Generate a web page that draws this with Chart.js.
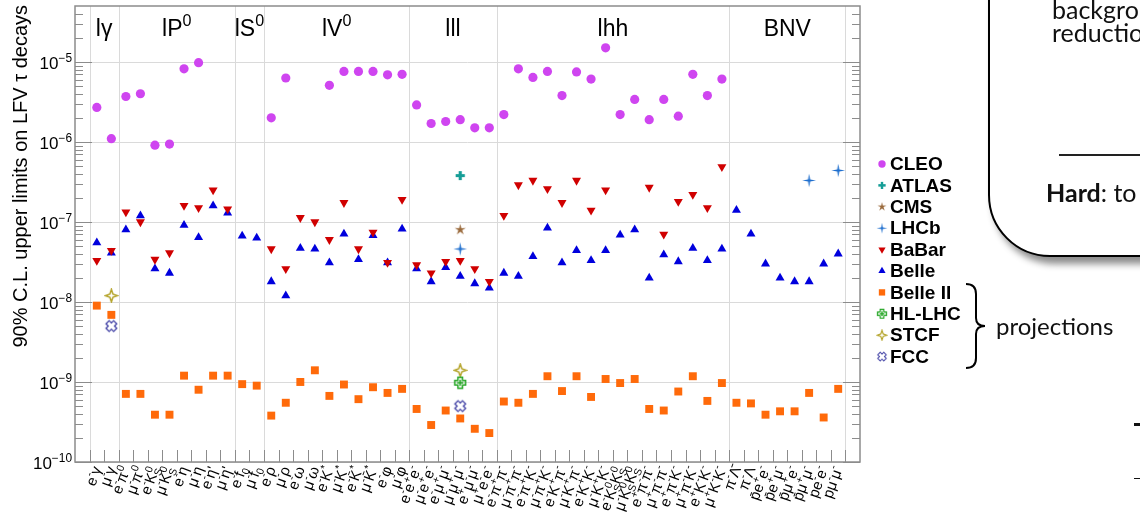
<!DOCTYPE html>
<html>
<head>
<meta charset="utf-8">
<title>Upper limits on LFV tau decays</title>
<script src="https://cdn.jsdelivr.net/npm/chart.js@4/dist/chart.umd.min.js"></script>
<style>
  html, body { margin: 0; padding: 0; width: 1140px; height: 513px; overflow: hidden; background: #fff; }
  #plot { position: absolute; left: 0; top: 0; }
  .slide { position: absolute; font-family: Lato, "Open Sans", sans-serif; color: #111; white-space: nowrap; }
  .box { position: absolute; left: 988px; top: -120px; width: 420px; height: 373px;
         border: 2.5px solid #000; border-radius: 62px; background: #fff;
         box-shadow: 5px 7px 7px rgba(0,0,0,0.45); }
  .dash { position: absolute; background: #111; }
</style>
</head>
<body>
<canvas id="plot" width="1140" height="513"></canvas>

<div class="box"></div>
<div class="slide" style="left:1052px; top:-2px; font-size:25px; line-height:23px;">background<br>reduction</div>
<div class="slide" style="left:1059px; top:154px; width:120px; height:1.5px; background:#222;"></div>
<div class="slide" style="left:1046px; top:181px; font-size:25px; line-height:23px;"><b>Hard</b>: to</div>

<svg class="slide" style="left:0; top:0;" width="1140" height="513">
  <path d="M966,284 C973,284 976,287 976,294 L976,318 C976,323 979,326 985,326 C979,326 976,329 976,334 L976,358 C976,365 973,368 966,368"
        fill="none" stroke="#000" stroke-width="2"/>
</svg>
<div class="slide" style="left:996px; top:313px; font-size:24px; line-height:26px;">projections</div>
<div class="dash" style="left:1134px; top:423px; width:6px; height:2.5px;"></div>
<div class="dash" style="left:1134px; top:478px; width:6px; height:1.2px;"></div>

<script>
// Decay channels, grouped by final-state type ('^' superscript, '_' subscript)
const groupNames = ['lγ', 'lP^0', 'lS^0', 'lV^0', 'lll', 'lhh', 'BNV'];
const groupSizes = [2, 8, 2, 10, 6, 16, 8];
const channels = [
  'e^-γ', 'μ^-γ',
  'e^-π^0', 'μ^-π^0', 'e^-K^0_S', 'μ^-K^0_S', 'e^-η', 'μ^-η', "e^-η'", "μ^-η'",
  'e^-f_0', 'μ^-f_0',
  'e^-ρ', 'μ^-ρ', 'e^-ω', 'μ^-ω', 'e^-K^*', 'μ^-K^*', 'e^-K\u0304^*', 'μ^-K\u0304^*', 'e^-φ', 'μ^-φ',
  'e^-e^+e^-', 'μ^-e^+e^-', 'e^-μ^+μ^-', 'μ^-μ^+μ^-', 'e^+μ^-μ^-', 'μ^+e^-e^-',
  'e^-π^+π^-', 'μ^-π^+π^-', 'e^-π^+K^-', 'μ^-π^+K^-', 'e^-K^+π^-', 'μ^-K^+π^-', 'e^-K^+K^-', 'μ^-K^+K^-',
  'e^-K^0_SK^0_S', 'μ^-K^0_SK^0_S', 'e^+π^-π^-', 'μ^+π^-π^-', 'e^+π^-K^-', 'μ^+π^-K^-', 'e^+K^-K^-', 'μ^+K^-K^-',
  'π^-Λ\u0304', 'π^-Λ', 'p\u0304e^+e^-', 'p\u0304e^+μ^-', 'p\u0304μ^+e^-', 'p\u0304μ^+μ^-', 'pe^-e^-', 'pμ^-μ^-'
];

// Decade labels of the vertical axis
const decadeExponents = [-10, -9, -8, -7, -6, -5];

// 90% C.L. upper limits, one entry per channel (null = no result)
const cleo = [2.7e-6, 1.1e-6,
  3.7e-6, 4.0e-6, 9.1e-7, 9.4e-7, 8.2e-6, 9.8e-6, null, null,
  null, null,
  2.0e-6, 6.3e-6, null, null, 5.1e-6, 7.6e-6, 7.6e-6, 7.6e-6, 6.9e-6, 7.0e-6,
  2.9e-6, 1.7e-6, 1.8e-6, 1.9e-6, 1.5e-6, 1.5e-6,
  2.2e-6, 8.2e-6, 6.4e-6, 7.6e-6, 3.8e-6, 7.5e-6, 6.1e-6, 1.5e-5, 2.2e-6, 3.4e-6, 1.9e-6, 3.4e-6, 2.1e-6, 7.0e-6, 3.8e-6, 6.1e-6,
  null, null, null, null, null, null, null, null];
const babar = [3.3e-8, 4.4e-8,
  1.33e-7, 1.0e-7, 3.4e-8, 4.1e-8, 1.6e-7, 1.5e-7, 2.5e-7, 1.45e-7,
  null, null,
  4.6e-8, 2.6e-8, 1.13e-7, 1.0e-7, 6.0e-8, 1.74e-7, 4.6e-8, 7.4e-8, 3.1e-8, 1.9e-7,
  2.9e-8, 2.3e-8, 3.2e-8, 3.3e-8, 2.6e-8, 1.8e-8,
  1.2e-7, 2.9e-7, 3.3e-7, 2.6e-7, 1.74e-7, 3.3e-7, 1.4e-7, 2.5e-7, null, null, 2.7e-7, 7.0e-8, 1.8e-7, 2.2e-7, 1.5e-7, 4.9e-7,
  null, null, null, null, null, null, null, null];
const belle = [5.5e-8, 4.1e-8,
  8.0e-8, 1.2e-7, 2.6e-8, 2.3e-8, 9.1e-8, 6.4e-8, 1.6e-7, 1.3e-7,
  6.7e-8, 6.3e-8,
  1.8e-8, 1.2e-8, 4.7e-8, 4.6e-8, 3.1e-8, 7.1e-8, 3.4e-8, 6.8e-8, 3.1e-8, 8.2e-8,
  2.6e-8, 1.8e-8, 2.7e-8, 2.1e-8, 1.7e-8, 1.5e-8,
  2.3e-8, 2.1e-8, 3.7e-8, 8.4e-8, 3.1e-8, 4.4e-8, 3.3e-8, 4.4e-8, 6.9e-8, 8.0e-8, 2.0e-8, 3.9e-8, 3.2e-8, 4.7e-8, 3.3e-8, 4.6e-8,
  1.4e-7, 7.1e-8, 3.0e-8, 2.0e-8, 1.8e-8, 1.8e-8, 3.0e-8, 4.0e-8];
const belle2 = [9.0e-9, 6.9e-9,
  7.1e-10, 7.1e-10, 3.9e-10, 3.9e-10, 1.2e-9, 8.0e-10, 1.2e-9, 1.2e-9,
  9.4e-10, 9.0e-10,
  3.8e-10, 5.5e-10, 1.0e-9, 1.4e-9, 6.7e-10, 9.3e-10, 6.1e-10, 8.6e-10, 7.3e-10, 8.2e-10,
  4.6e-10, 2.9e-10, 4.4e-10, 3.5e-10, 2.6e-10, 2.3e-10,
  5.7e-10, 5.5e-10, 7.1e-10, 1.18e-9, 7.7e-10, 1.18e-9, 6.5e-10, 1.09e-9, 9.7e-10, 1.09e-9, 4.6e-10, 4.4e-10, 7.6e-10, 1.18e-9, 5.8e-10, 9.7e-10,
  5.5e-10, 5.4e-10, 3.9e-10, 4.3e-10, 4.3e-10, 7.3e-10, 3.6e-10, 8.2e-10];
// Sparse results: [channel, limit]
const atlas = [['μ^-μ^+μ^-', 3.8e-7]];
const cms   = [['μ^-μ^+μ^-', 8.0e-8]];
const lhcb  = [['μ^-μ^+μ^-', 4.6e-8], ['p\u0304μ^+μ^-', 3.3e-7], ['pμ^-μ^-', 4.4e-7]];
const hllhc = [['μ^-μ^+μ^-', 9.8e-10]];
const stcf  = [['μ^-γ', 1.2e-8], ['μ^-μ^+μ^-', 1.4e-9]];
const fcc   = [['μ^-γ', 5.0e-9], ['μ^-μ^+μ^-', 5.0e-10]];

const FONT = '"Liberation Sans", Arial, Helvetica, sans-serif';

// ---- marker bitmaps for the shapes Chart.js has no built-in style for ----
function markerCanvas(size, paint) {
  const c = document.createElement('canvas');
  c.width = size; c.height = size;
  const g = c.getContext('2d');
  g.translate(size / 2, size / 2);
  paint(g);
  return c;
}
function starPath(g, n, ro, ri, rot) {
  g.beginPath();
  for (let k = 0; k < 2 * n; k++) {
    const r = k % 2 ? ri : ro;
    const a = rot + k * Math.PI / n;
    const px = r * Math.sin(a), py = -r * Math.cos(a);
    k ? g.lineTo(px, py) : g.moveTo(px, py);
  }
  g.closePath();
}
function crossPath(g, h, t) {
  g.beginPath();
  g.moveTo(-t, -h); g.lineTo(t, -h); g.lineTo(t, -t); g.lineTo(h, -t); g.lineTo(h, t); g.lineTo(t, t);
  g.lineTo(t, h); g.lineTo(-t, h); g.lineTo(-t, t); g.lineTo(-h, t); g.lineTo(-h, -t); g.lineTo(-t, -t);
  g.closePath();
}
const mkAtlas = markerCanvas(11, g => { g.fillStyle = '#169e97'; crossPath(g, 4.6, 1.6); g.fill(); });
const mkCms = markerCanvas(13, g => { g.fillStyle = '#9a6a3c'; starPath(g, 5, 5.8, 2.0, 0); g.fill(); });
const mkLhcb = markerCanvas(15, g => { g.fillStyle = '#1f6fce'; starPath(g, 4, 6.8, 1.5, 0); g.fill(); });
const mkHllhc = markerCanvas(14, g => {
  g.strokeStyle = '#23a523'; g.lineWidth = 1.5;
  crossPath(g, 5.4, 2.3); g.stroke();
  g.beginPath(); g.moveTo(-3, 0); g.lineTo(3, 0); g.moveTo(0, -3); g.lineTo(0, 3); g.stroke();
});
const mkStcf = markerCanvas(15, g => { g.strokeStyle = '#b3a226'; g.lineWidth = 1.5; starPath(g, 4, 6.2, 2.2, 0); g.stroke(); });
const mkFcc = markerCanvas(15, g => {
  g.strokeStyle = '#4343a6'; g.lineWidth = 1.3; g.rotate(Math.PI / 4);
  crossPath(g, 5.4, 2.2); g.stroke();
});

function dense(values) {
  return values.map((v, i) => v === null ? null : { x: i, y: v }).filter(p => p);
}
function sparse(pairs) {
  return pairs.map(([ch, v]) => ({ x: channels.indexOf(ch), y: v }));
}
function series(label, data, style) {
  return Object.assign({ label, data, showLine: false, pointBorderWidth: 0, pointHoverRadius: 0 }, style);
}

const datasets = [
  series('CLEO', dense(cleo), { pointStyle: 'circle', pointRadius: 4.6, pointBackgroundColor: '#cf45f0', pointBorderColor: '#cf45f0' }),
  series('ATLAS', sparse(atlas), { pointStyle: mkAtlas, pointRadius: 5 }),
  series('CMS', sparse(cms), { pointStyle: mkCms, pointRadius: 5 }),
  series('LHCb', sparse(lhcb), { pointStyle: mkLhcb, pointRadius: 5 }),
  series('BaBar', dense(babar), { pointStyle: 'triangle', pointRotation: 180, pointRadius: 5.2, pointBackgroundColor: '#d00000', pointBorderColor: '#d00000' }),
  series('Belle', dense(belle), { pointStyle: 'triangle', pointRadius: 5.2, pointBackgroundColor: '#0000dd', pointBorderColor: '#0000dd' }),
  series('Belle II', dense(belle2), { pointStyle: 'rect', pointRadius: 5.6, pointBackgroundColor: '#ff6a0a', pointBorderColor: '#ff6a0a' }),
  series('HL-LHC', sparse(hllhc), { pointStyle: mkHllhc, pointRadius: 5 }),
  series('STCF', sparse(stcf), { pointStyle: mkStcf, pointRadius: 5 }),
  series('FCC', sparse(fcc), { pointStyle: mkFcc, pointRadius: 5 })
];

// ---- simple rich text: '^x' / '^{..}' superscript, '_x' subscript ----
function richSegments(s) {
  const ch = [...s], out = [];
  let buf = '', i = 0;
  const flush = () => { if (buf) { out.push({ t: buf, m: 'n' }); buf = ''; } };
  while (i < ch.length) {
    const c = ch[i];
    if (c === '^' || c === '_') {
      flush(); i++;
      let t = '';
      if (ch[i] === '{') { i++; while (i < ch.length && ch[i] !== '}') t += ch[i++]; i++; }
      else { t = ch[i++]; }
      out.push({ t, m: c === '^' ? 'sup' : 'sub' });
    } else { buf += c; i++; }
  }
  flush();
  return out;
}
function layoutRich(ctx, s, size, weight) {
  const segs = richSegments(s), small = size * 0.7;
  let w = 0, supX = 0, supW = 0;
  segs.forEach((g, j) => {
    g.size = g.m === 'n' ? size : small;
    ctx.font = `${weight || ''} ${g.size}px ${FONT}`;
    g.w = ctx.measureText(g.t).width;
    if (g.m === 'sub' && j > 0 && segs[j - 1].m === 'sup') {
      g.x = supX; w = supX + Math.max(supW, g.w);
    } else {
      g.x = w;
      if (g.m === 'sup') { supX = w; supW = g.w; }
      w += g.w;
    }
  });
  return { segs, w };
}
// draws with the alphabetic baseline at y; x is the start of the text
function drawRich(ctx, lay, x, y, size, weight) {
  ctx.textBaseline = 'alphabetic';
  ctx.textAlign = 'left';
  for (const g of lay.segs) {
    ctx.font = `${weight || ''} ${g.size}px ${FONT}`;
    const dy = g.m === 'sup' ? -0.42 * size : g.m === 'sub' ? 0.22 * size : 0;
    ctx.fillText(g.t, x + g.x, y + dy);
  }
}

function drawLegendMarker(ctx, ds, x, y, k) {
  const st = ds.pointStyle;
  if (st instanceof HTMLCanvasElement) {
    ctx.save(); ctx.translate(x, y); ctx.scale(k, k);
    ctx.drawImage(st, -st.width / 2, -st.height / 2);
    ctx.restore(); return;
  }
  const r = ds.pointRadius * k;
  ctx.fillStyle = ds.pointBackgroundColor;
  ctx.beginPath();
  if (st === 'circle') ctx.arc(x, y, r, 0, 2 * Math.PI);
  else if (st === 'rect') { const h = r * Math.SQRT1_2; ctx.rect(x - h, y - h, 2 * h, 2 * h); }
  else if (st === 'triangle') {
    let a = (ds.pointRotation || 0) * Math.PI / 180;
    for (let n = 0; n < 3; n++, a += 2 * Math.PI / 3) {
      const px = x + Math.sin(a) * r, py = y - Math.cos(a) * r;
      n ? ctx.lineTo(px, py) : ctx.moveTo(px, py);
    }
    ctx.closePath();
  }
  ctx.fill();
}

const groupEdges = groupSizes.reduce((acc, n) => { acc.push(acc[acc.length - 1] + n); return acc; }, [0]);

const rootStyleAxes = {
  id: 'rootStyleAxes',
  beforeDatasetsDraw(chart) {
    const { ctx, chartArea: a, scales: { x, y } } = chart;
    ctx.save();
    ctx.strokeStyle = '#dadada';
    ctx.lineWidth = 1;
    ctx.beginPath();
    for (const e of decadeExponents) {
      const py = Math.round(y.getPixelForValue(Math.pow(10, e))) + 0.5;
      ctx.moveTo(a.left, py); ctx.lineTo(a.right, py);
    }
    for (const k of groupEdges) {
      const px = Math.round(x.getPixelForValue(k - 0.5)) + 0.5;
      ctx.moveTo(px, a.top); ctx.lineTo(px, a.bottom);
    }
    ctx.stroke();

    // tick marks, pointing into the frame
    ctx.strokeStyle = '#8c8c8c';
    ctx.beginPath();
    for (let k = 0; k <= channels.length; k++) {
      const px = Math.round(x.getPixelForValue(k - 0.5)) + 0.5;
      ctx.moveTo(px, a.bottom); ctx.lineTo(px, a.bottom - 12);
    }
    const yMax = y.max;
    for (const e of decadeExponents) {
      for (let m = 1; m <= 9; m++) {
        const v = m * Math.pow(10, e);
        if (v >= yMax) continue;
        const py = Math.round(y.getPixelForValue(v)) + 0.5;
        const len = m === 1 ? 17 : 8;
        ctx.moveTo(a.left, py); ctx.lineTo(a.left + len, py);
        ctx.moveTo(a.right, py); ctx.lineTo(a.right - len, py);
      }
    }
    ctx.stroke();
    ctx.restore();
  },
  afterDatasetsDraw(chart) {
    const { ctx, chartArea: a, scales: { x, y } } = chart;
    ctx.save();
    // frame
    ctx.strokeStyle = '#8c8c8c';
    ctx.lineWidth = 1.5;
    ctx.strokeRect(a.left, a.top, a.right - a.left, a.bottom - a.top);

    ctx.fillStyle = '#000';
    // group names along the top
    for (let g = 0; g < groupNames.length; g++) {
      const cx = (x.getPixelForValue(groupEdges[g] - 0.5) + x.getPixelForValue(groupEdges[g + 1] - 0.5)) / 2;
      const lay = layoutRich(ctx, groupNames[g], 23);
      drawRich(ctx, lay, cx - lay.w / 2, 36, 23);
    }

    // decade labels 10^n
    for (const e of decadeExponents) {
      const py = y.getPixelForValue(Math.pow(10, e));
      const lay = layoutRich(ctx, '10^{\u2212' + (-e) + '}', 17);
      drawRich(ctx, lay, 72 - lay.w, py + 7, 17);
    }

    // axis title, right-aligned at the top end of the axis
    ctx.save();
    ctx.translate(27, a.top - 1);
    ctx.rotate(-Math.PI / 2);
    ctx.font = `20px ${FONT}`;
    ctx.textAlign = 'right';
    ctx.textBaseline = 'alphabetic';
    ctx.fillText('90% C.L. upper limits on LFV τ decays', 0, 0);
    ctx.restore();

    // rotated channel labels below the axis
    const ang = 70 * Math.PI / 180;
    for (let i = 0; i < channels.length; i++) {
      const px = x.getPixelForValue(i);
      const lay = layoutRich(ctx, channels[i], 15);
      ctx.save();
      ctx.translate(px, a.bottom + 5);
      ctx.rotate(-ang);
      drawRich(ctx, lay, -lay.w, 5, 15);
      ctx.restore();
    }

    // legend
    const lx = 882, ly0 = 164, dy = 21.4;
    datasets.forEach((ds, k) => {
      const yy = ly0 + k * dy;
      drawLegendMarker(ctx, ds, lx, yy, 0.8);
      ctx.fillStyle = '#000';
      ctx.font = `bold 19px ${FONT}`;
      ctx.textAlign = 'left';
      ctx.textBaseline = 'middle';
      ctx.fillText(ds.label, lx + 8, yy + 1);
    });
    ctx.restore();
  }
};

new Chart(document.getElementById('plot'), {
  type: 'scatter',
  data: { datasets },
  options: {
    responsive: false,
    animation: false,
    devicePixelRatio: 1,
    events: [],
    layout: { padding: { left: 75, right: 280, top: 6, bottom: 51 } },
    scales: {
      x: { type: 'linear', min: -1.5, max: 52.5, display: false },
      y: { type: 'logarithmic', min: 1e-10, max: 5e-5, display: false }
    },
    plugins: { legend: { display: false }, tooltip: { enabled: false } }
  },
  plugins: [rootStyleAxes]
});
</script>
</body>
</html>
